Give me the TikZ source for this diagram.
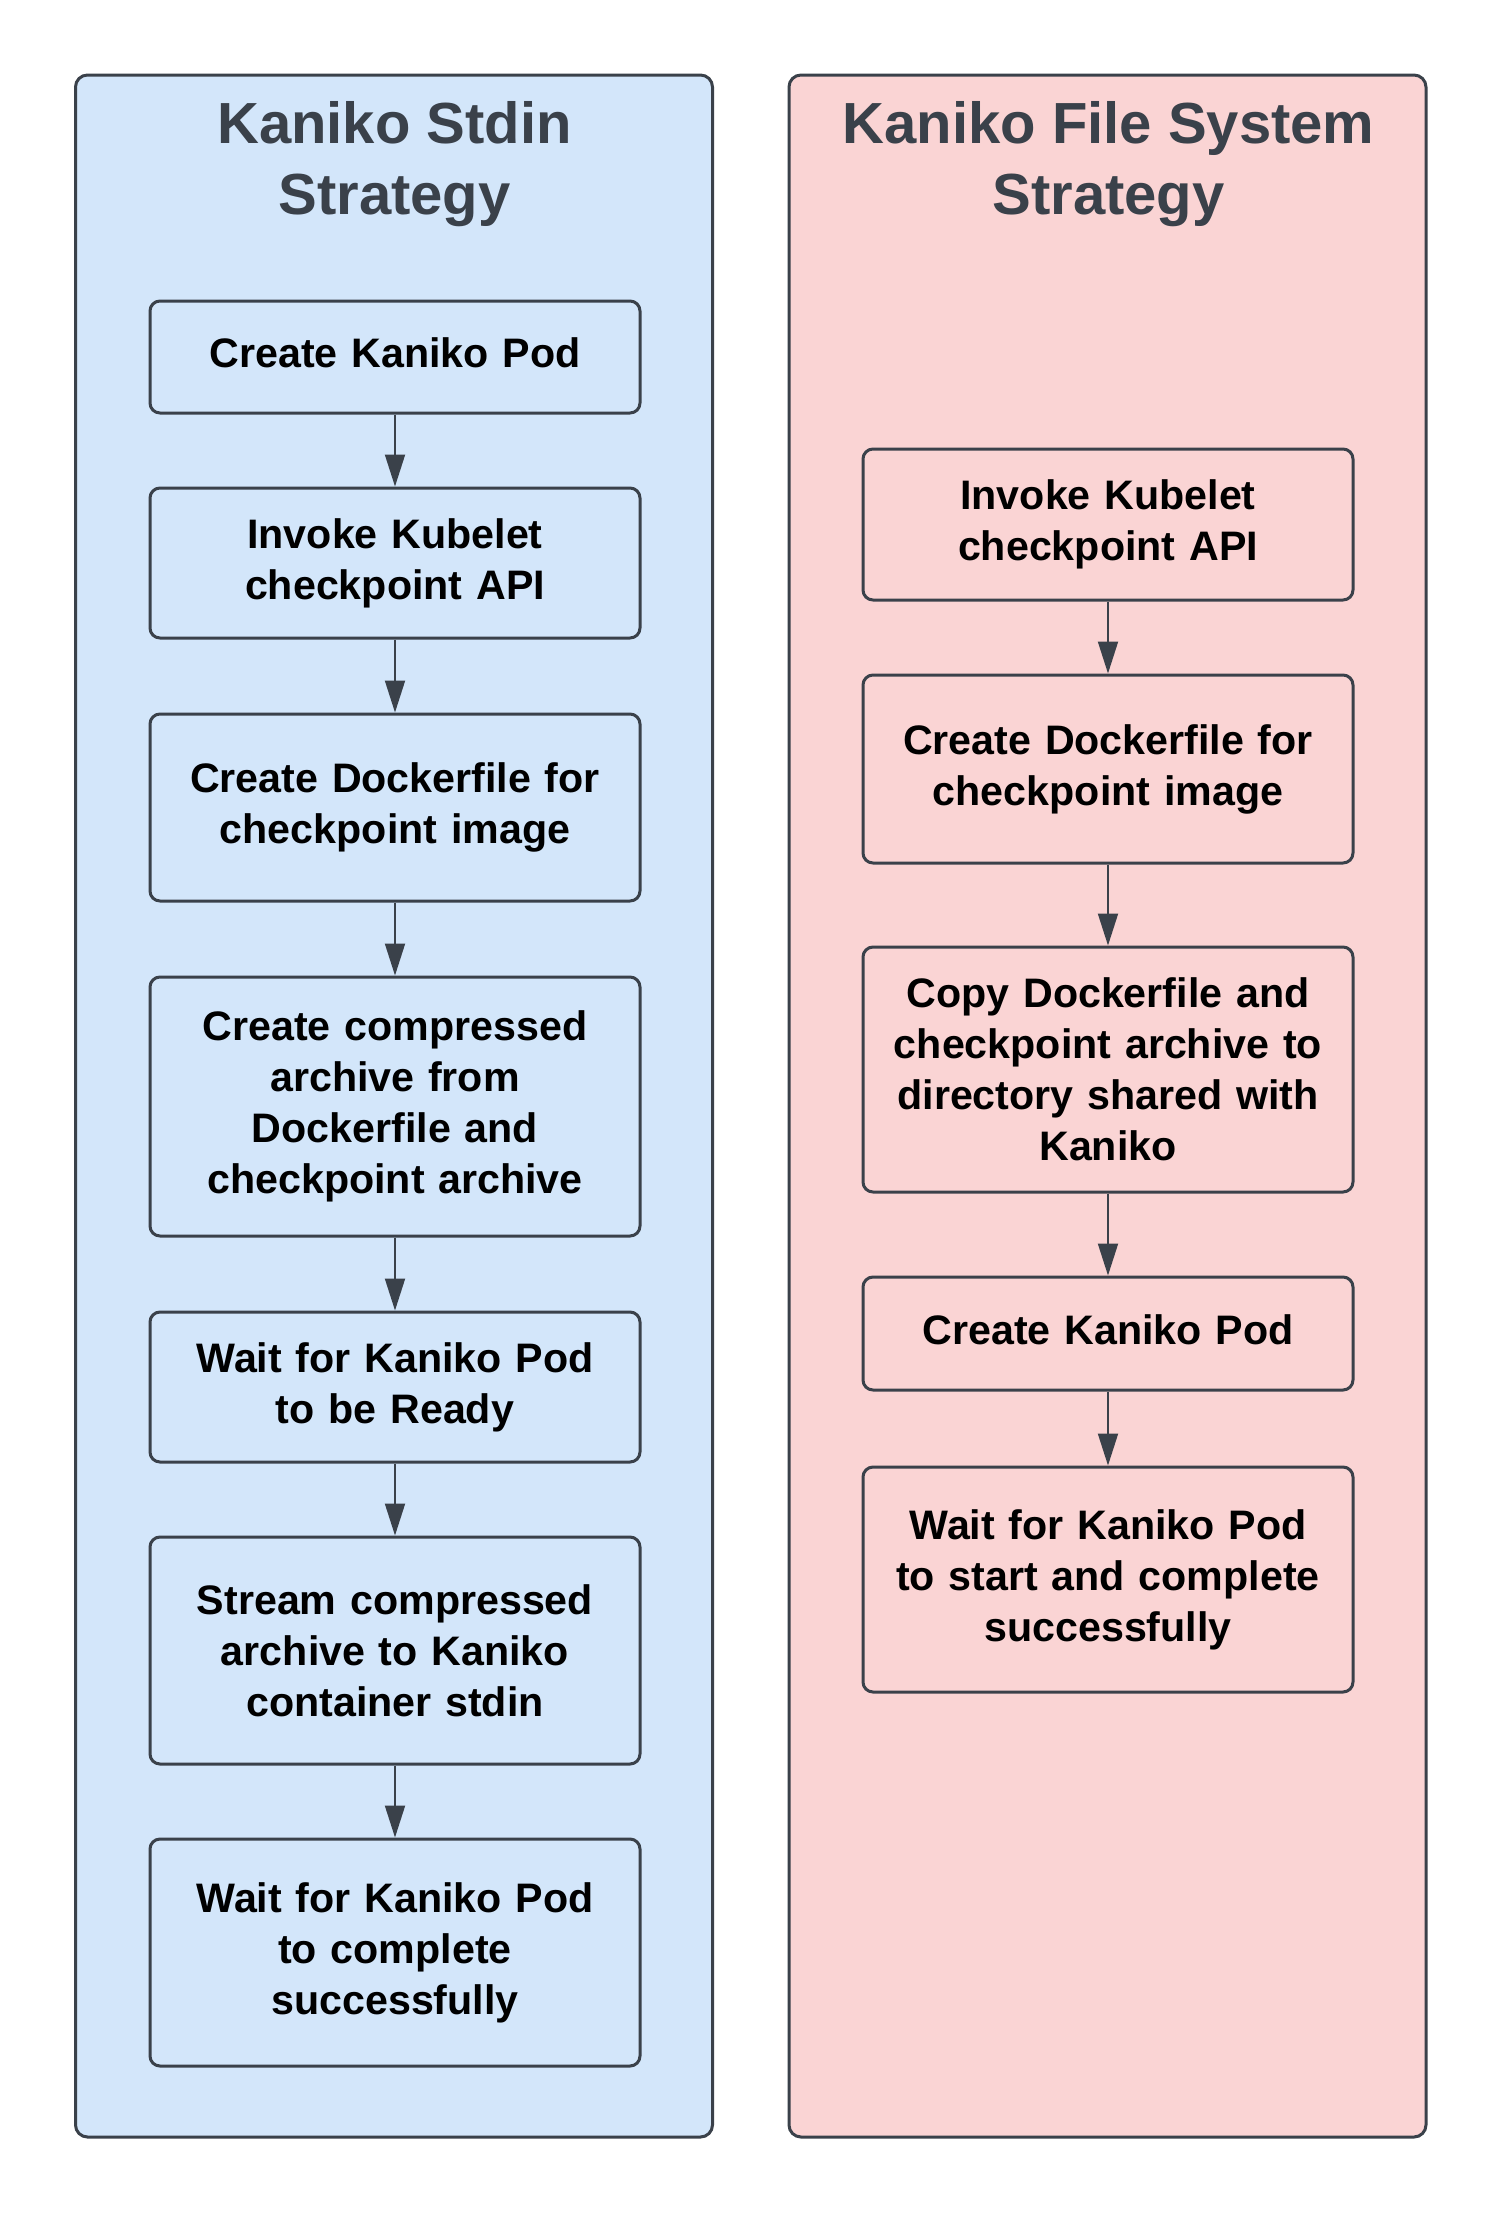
\documentclass[tikz,border=0pt]{standalone}
\usepackage{fontspec}
\setmainfont{Liberation Sans}
\usetikzlibrary{arrows.meta}
\definecolor{edgegray}{HTML}{3A414A}
\definecolor{laneblue}{HTML}{D3E6FA}
\definecolor{lanepink}{HTML}{FAD4D4}
\begin{document}
\begin{tikzpicture}[x=0.5pt,y=-0.5pt,
  lane/.style={draw=edgegray, line width=1.5pt, rounded corners=6pt, minimum width=318.5pt, minimum height=1031pt, inner sep=0pt},
  stepbox/.style={draw=edgegray, line width=1.5pt, rounded corners=5pt, minimum width=245pt, text width=235pt, align=center, inner sep=0pt, font=\fontsize{20.6}{25.5}\selectfont\bfseries, text=black},
  lanetitle/.style={text=edgegray, align=center, inner sep=0pt, font=\fontsize{29}{35.5}\selectfont\bfseries},
  flow/.style={draw=edgegray, line width=1pt, -{Triangle[length=16pt,width=10pt]}}]
\useasboundingbox (0,0) rectangle (1500,2213);
% lanes
\node[lane, fill=laneblue] (laneL) at (394,1106) {};
\node[lane, fill=lanepink] (laneR) at (1107.5,1106) {};
\node[lanetitle] (titleL) at (394.5,164) {Kaniko Stdin\\Strategy};
\node[lanetitle] (titleR) at (1108.5,164) {Kaniko File System\\Strategy};
% left steps
\node[stepbox, minimum height=56pt] (l1) at (395,357) {Create Kaniko Pod\vphantom{gy}};
\node[stepbox, minimum height=75pt] (l2) at (395,563) {Invoke Kubelet\\checkpoint API};
\node[stepbox, minimum height=93.5pt] (l3) at (395,807.5) {Create Dockerfile for\\checkpoint image};
\node[stepbox, minimum height=129.5pt] (l4) at (395,1106.5) {Create compressed\\archive from\\Dockerfile and\\checkpoint archive};
\node[stepbox, minimum height=75pt] (l5) at (395,1387) {Wait for Kaniko Pod\\to be Ready};
\node[stepbox, minimum height=113.5pt] (l6) at (395,1650.5) {Stream compressed\\archive to Kaniko\\container stdin};
\node[stepbox, minimum height=113.5pt] (l7) at (395,1952.5) {Wait for Kaniko Pod\\to complete\\successfully};
% right steps
\node[stepbox, minimum height=75.5pt] (r1) at (1108,524.5) {Invoke Kubelet\\checkpoint API};
\node[stepbox, minimum height=94pt] (r2) at (1108,769) {Create Dockerfile for\\checkpoint image};
\node[stepbox, minimum height=122.5pt] (r3) at (1108,1069.5) {Copy Dockerfile and\\checkpoint archive to\\directory shared with\\Kaniko};
\node[stepbox, minimum height=56.5pt] (r4) at (1108,1333.5) {Create Kaniko Pod\vphantom{gy}};
\node[stepbox, minimum height=112.5pt] (r5) at (1108,1579.5) {Wait for Kaniko Pod\\to start and complete\\successfully};
% connectors
\draw[flow] (l1) -- (l2);
\draw[flow] (l2) -- (l3);
\draw[flow] (l3) -- (l4);
\draw[flow] (l4) -- (l5);
\draw[flow] (l5) -- (l6);
\draw[flow] (l6) -- (l7);
\draw[flow] (r1) -- (r2);
\draw[flow] (r2) -- (r3);
\draw[flow] (r3) -- (r4);
\draw[flow] (r4) -- (r5);
\end{tikzpicture}
\end{document}
